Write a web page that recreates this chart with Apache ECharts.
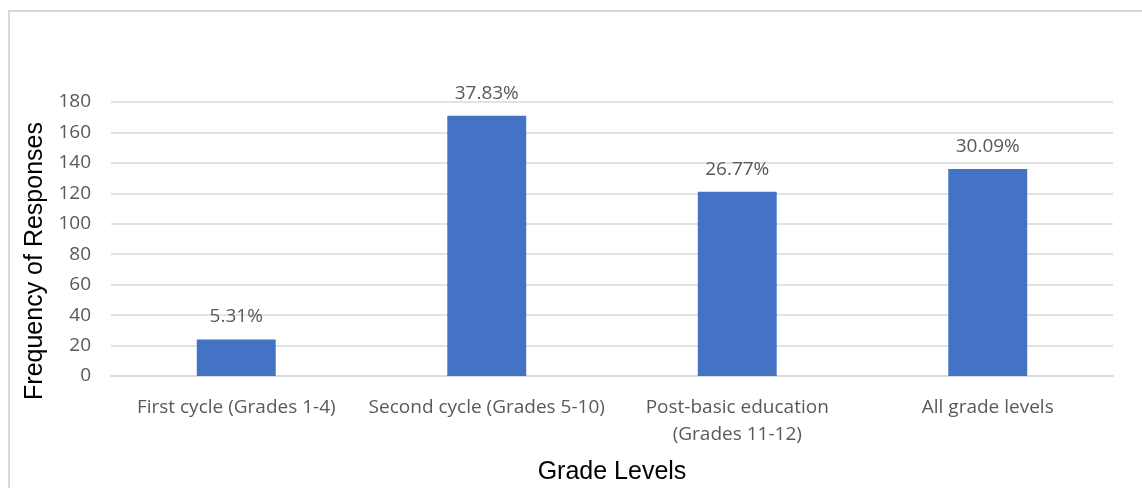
<!DOCTYPE html>
<html>
<head>
<meta charset="utf-8">
<script src="https://cdn.jsdelivr.net/npm/echarts@6/dist/echarts.min.js"></script>
<style>
  html, body { margin: 0; padding: 0; background: #fff; }
  #box { width: 1142px; height: 488px; }
</style>
</head>
<body>
<div id="box"></div>
<script>
var categories = ['First cycle (Grades 1-4)', 'Second cycle (Grades 5-10)', 'Post-basic education\n(Grades 11-12)', 'All grade levels'];
var counts = [24, 171, 121, 136];
var percents = ['5.31%', '37.83%', '26.77%', '30.09%'];

var myChart = echarts.init(document.getElementById('box'));

var option = {
    animation: false,
    backgroundColor: '#ffffff',
    graphic: [{
        type: 'rect',
        shape: { x: 9, y: 11, width: 1200, height: 600 },
        style: { fill: 'none', stroke: '#d9d9d9', lineWidth: 2 },
        silent: true
    }],
    grid: { left: 111, right: 29, top: 102, bottom: 112, outerBoundsMode: 'none' },
    xAxis: [{
        type: 'category',
        data: categories,
        axisTick: { show: false },
        axisLine: { lineStyle: { color: '#d9d9d9', width: 1.5 } },
        axisLabel: {
            interval: 0,
            color: '#595959',
            fontFamily: 'Open Sans',
            fontSize: 19,
            lineHeight: 27,
            margin: 18
        },
        name: 'Grade Levels',
        nameLocation: 'middle',
        nameGap: 84,
        nameTextStyle: { color: '#000', fontFamily: 'Liberation Sans', fontSize: 25 }
    }],
    yAxis: [{
        type: 'value',
        min: 0,
        max: 180,
        interval: 20,
        axisLine: { show: false },
        axisTick: { show: false },
        splitLine: { lineStyle: { color: '#d9d9d9', width: 1.5 } },
        axisLabel: {
            color: '#595959',
            fontFamily: 'Open Sans',
            fontSize: 19,
            margin: 20
        },
        name: 'Frequency of Responses',
        nameLocation: 'middle',
        nameGap: 63,
        nameTextStyle: {
            color: '#000',
            fontFamily: 'Liberation Sans',
            fontSize: 25,
            padding: [0, 44, 0, 0]
        }
    }],
    series: [{
        type: 'bar',
        data: counts,
        barWidth: '31.5%',
        itemStyle: { color: '#4472c4' },
        label: {
            show: true,
            position: 'top',
            distance: 13,
            color: '#595959',
            fontFamily: 'Open Sans',
            fontSize: 19,
            formatter: function (p) { return percents[p.dataIndex]; }
        }
    }]
};

myChart.setOption(option);
</script>
</body>
</html>
